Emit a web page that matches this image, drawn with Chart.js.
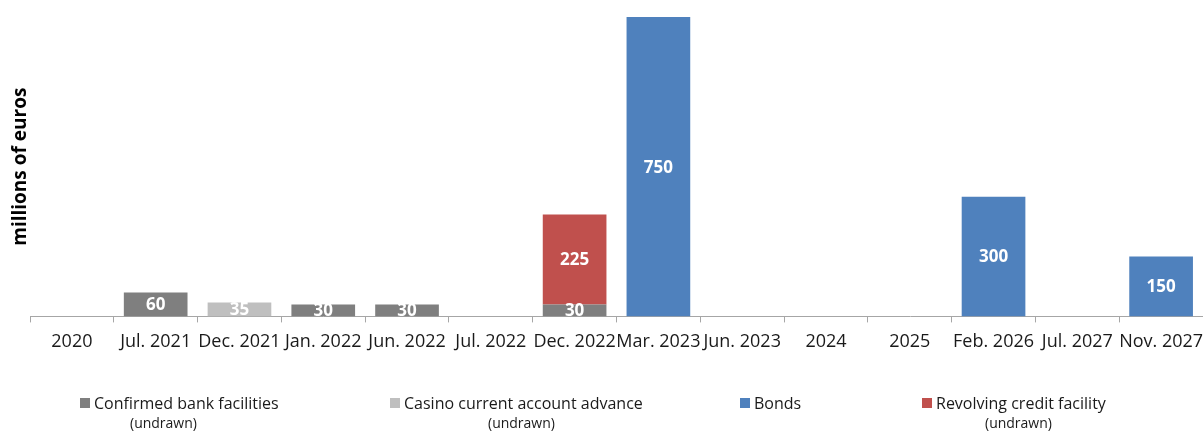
<!DOCTYPE html>
<html>
<head>
<meta charset="utf-8">
<script src="https://cdn.jsdelivr.net/npm/chart.js@4.4.1/dist/chart.umd.min.js"></script>
<style>
  html, body { margin: 0; padding: 0; background: #fff; }
  #wrap { position: relative; width: 1203px; height: 432px; overflow: hidden; font-family: "Open Sans", sans-serif; color: #1a1a1a; }
  #legend .item { position: absolute; top: 392px; font-size: 16px; white-space: nowrap; }
  #legend .box { display: inline-block; width: 10px; height: 10px; margin-right: 4px; vertical-align: 1px; }
  #legend .sub { position: absolute; top: 21px; font-size: 14px; white-space: nowrap; }
</style>
</head>
<body>
<div id="wrap">
  <canvas id="myChart" width="1203" height="432"></canvas>
  <div id="legend"></div>
</div>
<script>
var categories = ["2020", "Jul. 2021", "Dec. 2021", "Jan. 2022", "Jun. 2022", "Jul. 2022", "Dec. 2022",
  "Mar. 2023", "Jun. 2023", "2024", "2025", "Feb. 2026", "Jul. 2027", "Nov. 2027"];
var confirmedBank = [null, 60, null, 30, 30, null, 30, null, null, null, null, null, null, null];
var casinoAdvance = [null, null, 35, null, null, null, null, null, null, null, null, null, null, null];
var bonds = [null, null, null, null, null, null, null, 750, null, null, null, 300, null, 150];
var revolving = [null, null, null, null, null, null, 225, null, null, null, null, null, null, null];
var seriesNames = ["Confirmed bank facilities", "Casino current account advance", "Bonds", "Revolving credit facility"];
var seriesNotes = ["(undrawn)", "(undrawn)", "", "(undrawn)"];

var colors = ["#7f7f7f", "#bfbfbf", "#4f81bd", "#c0504d"];

// labels inside the bars, clipped to the plot area like the original
var barLabels = {
  id: "barLabels",
  afterDatasetsDraw: function (chart) {
    var ctx = chart.ctx, area = chart.chartArea;
    ctx.save();
    ctx.beginPath();
    ctx.rect(area.left, area.top, area.right - area.left, area.bottom - area.top);
    ctx.clip();
    ctx.fillStyle = "#fff";
    ctx.font = "bold 17px 'Open Sans'";
    ctx.textAlign = "center";
    ctx.textBaseline = "middle";
    chart.data.datasets.forEach(function (ds, i) {
      chart.getDatasetMeta(i).data.forEach(function (bar, j) {
        var v = ds.data[j];
        if (v == null) return;
        ctx.fillText(v, bar.x, (bar.y + bar.base) / 2 + 1);
      });
    });
    ctx.restore();
  }
};

var ctx = document.getElementById("myChart").getContext("2d");
var myChart = new Chart(ctx, {
  type: "bar",
  data: {
    labels: categories,
    datasets: [
      { label: seriesNames[0], data: confirmedBank, backgroundColor: colors[0] },
      { label: seriesNames[1], data: casinoAdvance, backgroundColor: colors[1] },
      { label: seriesNames[2], data: bonds, backgroundColor: colors[2] },
      { label: seriesNames[3], data: revolving, backgroundColor: colors[3] }
    ]
  },
  options: {
    responsive: false,
    animation: false,
    layout: { padding: { top: 17, bottom: 70, left: 0, right: -3 } },
    datasets: { bar: { barPercentage: 0.76, categoryPercentage: 1, skipNull: false } },
    plugins: { legend: { display: false }, tooltip: { enabled: false } },
    scales: {
      x: {
        stacked: true,
        offset: true,
        // let the last label run off the edge, as in the original
        afterFit: function (scale) { scale.paddingLeft = 0; scale.paddingRight = 0; },
        grid: { display: true, offset: true, drawOnChartArea: false, drawTicks: true, tickLength: 6, color: "#a6a6a6" },
        border: { display: true, color: "#a6a6a6" },
        ticks: { color: "#1a1a1a", font: { family: "Open Sans", size: 18 }, padding: 9, maxRotation: 0, autoSkip: false }
      },
      y: {
        stacked: true,
        min: 0,
        max: 750,
        afterFit: function (scale) { scale.width = 30; },
        grid: { display: false },
        border: { display: false },
        ticks: { display: false },
        title: { display: true, text: "millions of euros", color: "#000", font: { family: "Open Sans", size: 19, weight: "bold" }, padding: { top: 9, bottom: 0 } }
      }
    }
  },
  plugins: [barLabels]
});

// legend with the "(undrawn)" notes under the names
var legendLeft = [80, 390, 740, 922];
var legendNoteLeft = [50, 98, 0, 63];
var legend = document.getElementById("legend");
seriesNames.forEach(function (name, i) {
  var item = document.createElement("div");
  item.className = "item";
  item.style.left = legendLeft[i] + "px";
  item.innerHTML = '<span class="box" style="background:' + colors[i] + '"></span>' + name;
  if (seriesNotes[i]) {
    var sub = document.createElement("div");
    sub.className = "sub";
    sub.style.left = legendNoteLeft[i] + "px";
    sub.textContent = seriesNotes[i];
    item.appendChild(sub);
  }
  legend.appendChild(item);
});
</script>
</body>
</html>
